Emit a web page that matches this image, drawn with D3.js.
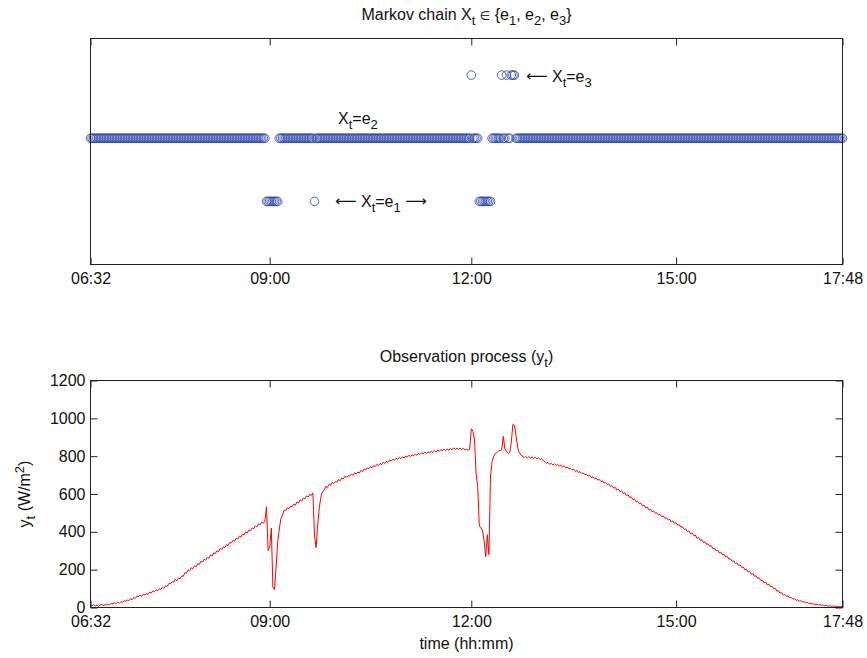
<!DOCTYPE html>
<html><head><meta charset="utf-8">
<script src="https://cdn.jsdelivr.net/npm/d3@7"></script>
<style>
body{margin:0;background:#fff}
text{font-family:"Liberation Sans",Arial,Helvetica,"DejaVu Sans",sans-serif;}
</style>
</head><body>
<svg id="c" width="867" height="658"></svg>
<script>
// ---------- data ----------
const tickIndex  = [0, 112, 238, 366, 470];           // sample index of each tick
const tickLabels = ["06:32", "09:00", "12:00", "15:00", "17:48"];
const yTicks     = [0, 200, 400, 600, 800, 1000, 1200];

// Markov chain state per sample (1 = e1, 2 = e2, 3 = e3), samples 0..470
const chainStates = [
 2,2,2,2,2,2,2,2,2,2,2,2,2,2,2,2,2,2,2,2,
 2,2,2,2,2,2,2,2,2,2,2,2,2,2,2,2,2,2,2,2,
 2,2,2,2,2,2,2,2,2,2,2,2,2,2,2,2,2,2,2,2,
 2,2,2,2,2,2,2,2,2,2,2,2,2,2,2,2,2,2,2,2,
 2,2,2,2,2,2,2,2,2,2,2,2,2,2,2,2,2,2,2,2,
 2,2,2,2,2,2,2,2,2,2,1,1,1,1,1,1,1,1,2,2,
 2,2,2,2,2,2,2,2,2,2,2,2,2,2,2,2,2,2,2,2,
 1,2,2,2,2,2,2,2,2,2,2,2,2,2,2,2,2,2,2,2,
 2,2,2,2,2,2,2,2,2,2,2,2,2,2,2,2,2,2,2,2,
 2,2,2,2,2,2,2,2,2,2,2,2,2,2,2,2,2,2,2,2,
 2,2,2,2,2,2,2,2,2,2,2,2,2,2,2,2,2,2,2,2,
 2,2,2,2,2,2,2,2,2,2,2,2,2,2,2,2,2,2,3,2,
 2,2,2,1,1,1,1,1,1,1,1,2,2,2,2,2,2,3,2,2,
 3,2,2,3,3,3,2,2,2,2,2,2,2,2,2,2,2,2,2,2,
 2,2,2,2,2,2,2,2,2,2,2,2,2,2,2,2,2,2,2,2,
 2,2,2,2,2,2,2,2,2,2,2,2,2,2,2,2,2,2,2,2,
 2,2,2,2,2,2,2,2,2,2,2,2,2,2,2,2,2,2,2,2,
 2,2,2,2,2,2,2,2,2,2,2,2,2,2,2,2,2,2,2,2,
 2,2,2,2,2,2,2,2,2,2,2,2,2,2,2,2,2,2,2,2,
 2,2,2,2,2,2,2,2,2,2,2,2,2,2,2,2,2,2,2,2,
 2,2,2,2,2,2,2,2,2,2,2,2,2,2,2,2,2,2,2,2,
 2,2,2,2,2,2,2,2,2,2,2,2,2,2,2,2,2,2,2,2,
 2,2,2,2,2,2,2,2,2,2,2,2,2,2,2,2,2,2,2,2,
 2,2,2,2,2,2,2,2,2,2,2
];

// Observation y_t (W/m^2), one reading per chain sample
const obsValues = [
 14,9,16,8,13,6,12,17,10,15,
 13,19,14,22,19,24,21,28,23,30,
 28,36,33,39,37,46,41,52,49,60,
 57,66,60,71,66,73,70,82,76,88,
 84,93,89,99,96,108,101,115,112,127,
 128,135,134,149,141,156,152,167,165,184,
 182,199,194,210,205,220,215,232,227,244,
 240,255,250,266,260,278,272,289,285,300,
 296,311,305,321,316,333,327,344,340,355,
 350,366,361,377,372,388,384,400,394,410,
 406,421,416,431,426,442,437,450,446,457,
 533,300,318,419,108,95,215,345,415,470,
 490,514,512,527,522,535,533,546,541,558,
 553,569,563,579,574,590,584,598,592,606,
 378,316,435,528,585,612,620,640,634,651,
 646,661,655,666,662,676,670,684,680,694,
 688,697,694,705,699,712,706,716,711,724,
 719,733,727,738,734,745,739,750,745,757,
 750,762,755,768,761,772,767,780,774,784,
 778,789,783,793,787,797,790,801,795,805,
 798,807,802,811,805,815,809,818,812,821,
 814,823,818,826,820,829,823,832,826,834,
 829,836,831,838,832,840,834,844,836,842,
 835,843,836,840,833,837,831,836,945,932,
 890,705,640,430,424,405,352,268,385,280,
 695,772,799,814,820,827,830,833,905,838,
 824,815,819,875,968,962,905,845,818,806,
 800,793,798,791,797,790,796,788,794,787,
 791,783,787,776,771,762,766,757,762,754,
 759,751,756,748,752,744,748,739,743,733,
 736,727,731,720,724,713,718,708,711,702,
 705,695,699,688,691,681,684,674,677,666,
 669,658,661,649,653,640,644,631,635,621,
 625,612,616,602,607,592,596,582,585,570,
 573,559,562,549,552,537,541,527,531,516,
 519,506,510,497,501,488,492,481,484,471,
 475,463,466,454,457,444,448,435,438,424,
 427,413,416,401,405,390,394,380,383,366,
 370,356,359,344,348,334,337,324,327,311,
 314,300,303,288,292,278,281,267,270,255,
 258,244,247,232,236,222,225,211,214,199,
 202,188,191,176,180,165,168,154,157,142,
 145,130,134,119,123,109,112,99,101,86,
 89,76,79,66,69,58,61,50,53,44,
 47,38,41,33,36,29,31,25,27,21,
 23,18,20,15,17,13,15,11,13,9,
 11,7,9,6,8,5,7,5,6,4,
 5
];

// ---------- drawing ----------
const AX = "#222", TXT = "#111";
const SYM = '"DejaVu Sans",sans-serif';
const svg = d3.select("#c");
svg.append("rect").attr("width", 867).attr("height", 658).attr("fill", "#fff");

const x = d3.scaleLinear().domain([0, chainStates.length - 1]).range([90.5, 842.5]);

// parts: string, or {t, sub:1|sup:1, sym:1, fs}
function rich(g, px, py, parts, anchor, rot) {
  const t = g.append("text").attr("x", px).attr("y", py)
    .attr("text-anchor", anchor || "start").attr("font-size", 16).attr("fill", TXT);
  if (rot) t.attr("transform", `rotate(${rot},${px},${py})`);
  let shift = 0;
  parts.forEach(p => {
    const o = typeof p === "string" ? { t: p } : p;
    const target = o.sub ? 5 : (o.sup ? -6 : (o.dy || 0));
    const ts = t.append("tspan").attr("dy", target - shift)
      .attr("font-size", o.fs || ((o.sub || o.sup) ? 13 : 16)).text(o.t);
    if (o.sym) ts.attr("font-family", SYM);
    shift = target;
  });
  return t;
}

function styleAxis(g) {
  g.select(".domain").remove();
  g.selectAll("line").attr("stroke", AX);
  g.selectAll("text").attr("font-size", 16).attr("fill", TXT)
    .attr("font-family", '"Liberation Sans",Arial,Helvetica,sans-serif');
}

function box(g, x0, x1, y0, y1) {
  g.append("rect").attr("x", x0).attr("y", y0).attr("width", x1 - x0).attr("height", y1 - y0)
    .attr("fill", "none").attr("stroke", AX).attr("stroke-width", 1);
}

// ===== top panel: Markov chain =====
const yS = d3.scaleLinear().domain([0, 3.58]).range([264.5, 38.5]);
const topG = svg.append("g");
topG.append("g").selectAll("circle").data(chainStates).join("circle")
  .attr("cx", (d, i) => x(i)).attr("cy", d => yS(d)).attr("r", 4.3)
  .attr("fill", "none").attr("stroke", "#2340b0").attr("stroke-width", 0.8);

const topAxB = topG.append("g").attr("transform", "translate(0,264.5)")
  .call(d3.axisBottom(x).tickValues(tickIndex).tickFormat((d, i) => tickLabels[i])
    .tickSizeInner(-7).tickSizeOuter(0).tickPadding(8));
styleAxis(topAxB);
const topAxT = topG.append("g").attr("transform", "translate(0,38.5)")
  .call(d3.axisTop(x).tickValues(tickIndex).tickFormat("").tickSizeInner(-7).tickSizeOuter(0));
styleAxis(topAxT);
box(topG, 90.5, 842.5, 38.5, 264.5);

rich(topG, 466.5, 20, ["Markov chain X", {t:"t", sub:1}, " ", {t:"\u2208", sym:1, fs:12}, " {e", {t:"1", sub:1}, ", e", {t:"2", sub:1}, ", e", {t:"3", sub:1}, "}"], "middle");
rich(topG, 338, 124, ["X", {t:"t", sub:1}, "=e", {t:"2", sub:1}], "start");
rich(topG, 335, 207, [{t:"\u27F5", sym:1, fs:15, dy:-1}, {t:" X", dy:0}, {t:"t", sub:1}, "=e", {t:"1", sub:1}, " ", {t:"\u27F6", sym:1, fs:15, dy:-1}], "start");
rich(topG, 526, 81.5, [{t:"\u27F5", sym:1, fs:15, dy:-1}, {t:" X", dy:0}, {t:"t", sub:1}, "=e", {t:"3", sub:1}], "start");

// ===== bottom panel: observations =====
const yB = d3.scaleLinear().domain([0, 1200]).range([607.5, 380.5]);
const botG = svg.append("g");
const line = d3.line().x((d, i) => x(i)).y(d => yB(d));
botG.append("path").datum(obsValues).attr("d", line)
  .attr("fill", "none").attr("stroke", "#ff0000").attr("stroke-width", 1)
  .attr("stroke-linejoin", "round");

const botAxB = botG.append("g").attr("transform", "translate(0,607.5)")
  .call(d3.axisBottom(x).tickValues(tickIndex).tickFormat((d, i) => tickLabels[i])
    .tickSizeInner(-7).tickSizeOuter(0).tickPadding(8));
styleAxis(botAxB);
const botAxT = botG.append("g").attr("transform", "translate(0,380.5)")
  .call(d3.axisTop(x).tickValues(tickIndex).tickFormat("").tickSizeInner(-7).tickSizeOuter(0));
styleAxis(botAxT);
const botAxL = botG.append("g").attr("transform", "translate(90.5,0)")
  .call(d3.axisLeft(yB).tickValues(yTicks).tickFormat(d3.format("d"))
    .tickSizeInner(-7).tickSizeOuter(0).tickPadding(5));
styleAxis(botAxL);
const botAxR = botG.append("g").attr("transform", "translate(842.5,0)")
  .call(d3.axisRight(yB).tickValues(yTicks).tickFormat("").tickSizeInner(-7).tickSizeOuter(0));
styleAxis(botAxR);
box(botG, 90.5, 842.5, 380.5, 607.5);

rich(botG, 466.5, 362, ["Observation process (y", {t:"t", sub:1}, ")"], "middle");
rich(botG, 466.5, 649, ["time (hh:mm)"], "middle");
rich(botG, 30, 494, ["y", {t:"t", sub:1}, " (W/m", {t:"2", sup:1}, ")"], "middle", -90);
</script>
</body></html>
